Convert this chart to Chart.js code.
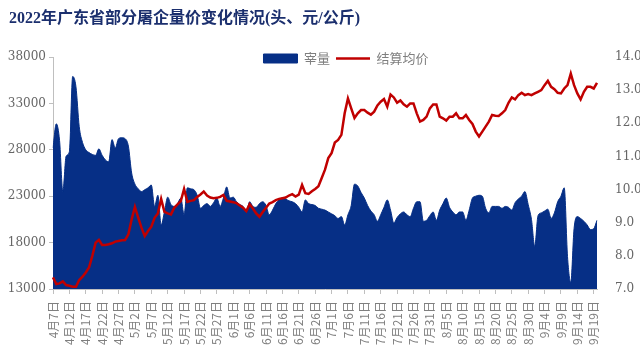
<!DOCTYPE html>
<html lang="zh-CN">
<head>
<meta charset="UTF-8">
<title>2022年广东省部分屠企量价变化情况</title>
<script src="https://cdn.jsdelivr.net/npm/chart.js"></script>
<style>
  html, body { margin: 0; padding: 0; background: #fff; }
  .wrap { position: relative; width: 640px; height: 362px; }
  .title {
    position: absolute; left: 9px; top: 8px;
    font: bold 16px 'Liberation Serif', 'Noto Sans CJK SC', serif;
    color: #1b2f6e; line-height: 20px; white-space: nowrap;
  }
</style>
</head>
<body>
<div class="wrap">
  <canvas id="chart" width="640" height="362"></canvas>
  <div class="title">2022年广东省部分屠企量价变化情况(头、元/公斤)</div>
</div>
<script>
// daily data, 4月7日 -> 9月20日
const slaughter = [
  28200, 30800, 29000, 23500, 27300, 27800, 35900, 34800, 30500, 28800,
  28000, 27700, 27500, 27400, 28100, 27400, 26900, 26700, 29100, 28200,
  29200, 29300, 29200, 28400, 25500, 24300, 23800, 23500, 23700, 23900,
  24200, 21900, 23100, 19900, 21300, 22900, 22100, 21900, 22200, 22800,
  21000, 23900, 23800, 23700, 23100, 21700, 22000, 22200, 21900, 22300,
  22800, 21900, 22800, 24000, 22800, 22900, 22400, 22100, 21900, 21300,
  22400, 21900, 21800, 22200, 22400, 22000, 21000, 21500, 22200, 22600,
  22800, 22700, 22500, 22400, 22200, 21800, 21300, 22600, 22200, 22100,
  22000, 21700, 21600, 21500, 21300, 21100, 20900, 20600, 20800, 19900,
  21000, 22000, 24300, 24100, 23400, 22800, 22000, 21400, 21000, 20300,
  21000, 21800, 22600, 21500, 20100, 20700, 21100, 21300, 21000, 20800,
  21700, 22400, 22400, 20300, 20400, 20900, 21300, 20400, 21500, 22200,
  22800, 21800, 21300, 21000, 21300, 21300, 20400, 21500, 22800, 23000,
  23100, 23000, 21700, 21200, 21900, 21900, 21900, 21700, 21900, 21800,
  21500, 22300, 22700, 23000, 23500, 22100, 20500, 17600, 20900, 21200,
  21400, 21600, 20600, 21200, 22400, 23000, 23900, 16500, 13700, 19500,
  20800, 20600, 20300, 19900, 19400, 19500, 20400
];
const price = [
  7.35, 7.15, 7.17, 7.23, 7.12, 7.10, 7.07, 7.07, 7.27, 7.37,
  7.50, 7.65, 8.00, 8.40, 8.48, 8.33, 8.33, 8.35, 8.38, 8.43,
  8.45, 8.47, 8.48, 8.65, 9.10, 9.48, 9.15, 8.85, 8.60, 8.75,
  8.88, 9.15, 9.28, 9.72, 9.33, 9.28, 9.25, 9.45, 9.55, 9.65,
  10.02, 9.63, 9.66, 9.68, 9.78, 9.85, 9.94, 9.82, 9.76, 9.74,
  9.75, 9.78, 9.84, 9.66, 9.64, 9.62, 9.59, 9.52, 9.45, 9.35,
  9.56, 9.43, 9.28, 9.18, 9.32, 9.45, 9.58, 9.62, 9.68, 9.72,
  9.74, 9.76, 9.82, 9.86, 9.79, 9.85, 10.14, 9.89, 9.87, 9.95,
  10.02, 10.10, 10.35, 10.60, 10.95, 11.10, 11.42, 11.50, 11.65, 12.30,
  12.75, 12.45, 12.16, 12.30, 12.40, 12.40, 12.32, 12.26, 12.35, 12.54,
  12.65, 12.73, 12.50, 12.87, 12.78, 12.62, 12.69, 12.57, 12.50, 12.60,
  12.60, 12.30, 12.05, 12.10, 12.20, 12.45, 12.57, 12.57, 12.20, 12.15,
  12.08, 12.20, 12.20, 12.30, 12.15, 12.15, 12.25, 12.10, 11.98, 11.75,
  11.60, 11.75, 11.90, 12.05, 12.25, 12.23, 12.22, 12.30, 12.40, 12.62,
  12.78, 12.72, 12.85, 12.92, 12.85, 12.88, 12.85, 12.90, 12.95, 13.00,
  13.15, 13.28, 13.10, 13.03, 12.92, 12.90, 13.05, 13.15, 13.50, 13.15,
  12.90, 12.72, 12.95, 13.10, 13.10, 13.05, 13.22
];
const months = [4, 5, 6, 7, 8, 9];
const monthLen = [30, 31, 30, 31, 31, 30];
const firstDay = 7;
const labelEvery = 5;
const leftTicks = [13000, 18000, 23000, 28000, 33000, 38000];
const rightTicks = [7, 8, 9, 10, 11, 12, 13, 14];
const seriesNames = ['宰量', '结算均价'];

const dates = [];
months.forEach((m, i) => {
  for (let d = (i === 0 ? firstDay : 1); d <= monthLen[i]; d++) {
    if (dates.length < slaughter.length) dates.push(m + '月' + d + '日');
  }
});

const blue = '#062f86';
const red = '#c00000';
const axisGray = '#bfbfbf';

// one-row legend sitting on the top edge of the plot, right of centre
const legendShift = {
  id: 'legendShift',
  beforeLayout(chart) {
    if (chart.legend) chart.legend.isHorizontal = () => true;
  },
  afterLayout(chart) {
    const lg = chart.legend;
    lg.top -= 11; lg.bottom -= 11;
    lg.left += 74; lg.right += 74;
  }
};

new Chart(document.getElementById('chart'), {
  type: 'line',
  data: {
    labels: dates,
    datasets: [
      {
        label: seriesNames[0],
        data: slaughter,
        yAxisID: 'y',
        order: 1,
        fill: 'start',
        backgroundColor: blue,
        borderColor: blue,
        borderWidth: 1,
        pointRadius: 0,
        pointStyle: 'rect',
        cubicInterpolationMode: 'monotone'
      },
      {
        label: seriesNames[1],
        data: price,
        yAxisID: 'y1',
        order: 0,
        fill: false,
        borderColor: red,
        backgroundColor: red,
        borderWidth: 2.5,
        pointRadius: 0,
        pointStyle: 'line',
        tension: 0
      }
    ]
  },
  options: {
    responsive: false,
    animation: false,
    layout: { padding: { top: 57, left: 0, right: 0, bottom: 0 } },
    plugins: {
      title: { display: false },
      tooltip: { enabled: false },
      legend: {
        position: 'chartArea',
        labels: {
          usePointStyle: true,
          pointStyleWidth: 34,
          boxHeight: 9,
          padding: 6,
          color: '#7f7f7f',
          font: { family: "'Noto Sans CJK SC', sans-serif", size: 13 },
          sort: (a, b) => a.datasetIndex - b.datasetIndex
        }
      }
    },
    scales: {
      x: {
        type: 'category',
        offset: false,
        afterBuildTicks: axis => {
          axis.ticks = axis.ticks.filter((t, i) => i % labelEvery === 0);
        },
        afterFit: axis => { axis.height = 73; },
        grid: { drawOnChartArea: false, drawTicks: true, tickLength: 5, color: axisGray },
        border: { display: true, color: axisGray },
        ticks: {
          autoSkip: false,
          minRotation: 90,
          maxRotation: 90,
          padding: 7,
          color: '#7f7f7f',
          font: { family: "'Noto Sans CJK SC', sans-serif", size: 12 }
        }
      },
      y: {
        position: 'left',
        min: leftTicks[0],
        max: leftTicks[leftTicks.length - 1],
        afterBuildTicks: axis => { axis.ticks = leftTicks.map(v => ({ value: v })); },
        afterFit: axis => { axis.width = 53; },
        grid: { drawOnChartArea: false, drawTicks: true, tickLength: 4, color: axisGray },
        border: { display: true, color: axisGray },
        ticks: {
          padding: 3,
          color: '#666',
          font: { family: "'DejaVu Serif', serif", size: 12 },
          callback: v => String(v)
        }
      },
      y1: {
        position: 'right',
        min: rightTicks[0],
        max: rightTicks[rightTicks.length - 1],
        afterBuildTicks: axis => { axis.ticks = rightTicks.map(v => ({ value: v })); },
        afterFit: axis => { axis.width = 43; },
        grid: { display: false },
        border: { display: false },
        ticks: {
          padding: 10,
          color: '#666',
          font: { family: "'DejaVu Serif', serif", size: 12 },
          callback: v => v.toFixed(1)
        }
      }
    }
  },
  plugins: [legendShift]
});
</script>
</body>
</html>
